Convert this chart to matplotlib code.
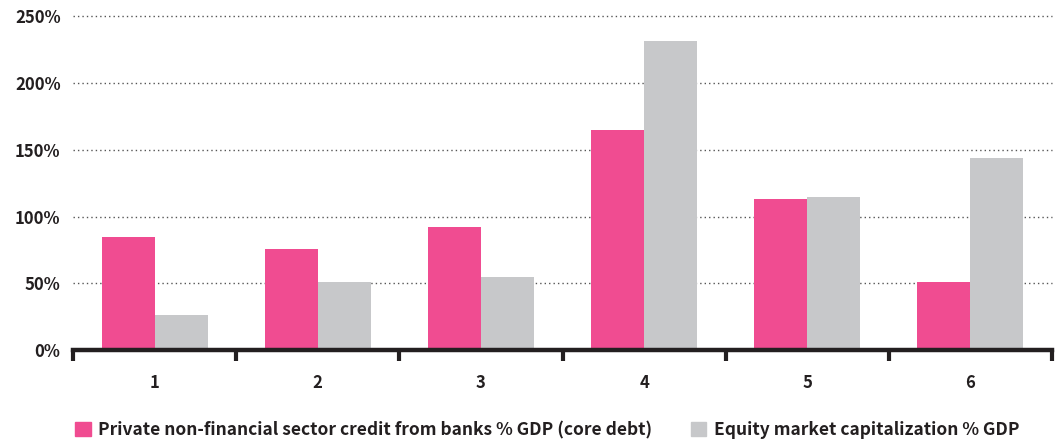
import matplotlib
matplotlib.use("Agg")
import matplotlib.pyplot as plt
import numpy as np
from matplotlib.patches import Patch

categories = ["1", "2", "3", "4", "5", "6"]
credit = [85, 76, 92, 165, 113, 51]
equity = [26, 51, 55, 232, 115, 144]
yticks = [0, 50, 100, 150, 200, 250]
ytick_labels = ["0%", "50%", "100%", "150%", "200%", "250%"]
series_names = ["Private non-financial sector credit from banks % GDP (core debt)",
                "Equity market capitalization % GDP"]

PINK = "#F04C91"
GRAY = "#C7C8CA"
DARK = "#231F20"

plt.rcParams['font.family'] = ['Noto Sans CJK SC', 'DejaVu Sans']
plt.rcParams['font.weight'] = 'bold'

fig = plt.figure(figsize=(10.57, 4.41), dpi=100)
ax = fig.add_axes([73/1057, 1-350/441, (1052-73)/1057, (350-16.5)/441])

x = np.arange(len(categories))
w = 0.325
ax.bar(x - w/2, credit, width=w, color=PINK, zorder=3, label=series_names[0])
ax.bar(x + w/2, equity, width=w, color=GRAY, zorder=3, label=series_names[1])

ax.set_xlim(-0.5, len(categories) - 0.5)
ax.set_ylim(0, 250)
ax.set_yticks(yticks)
ax.set_yticklabels(ytick_labels)
for t in yticks[1:]:
    ax.axhline(t, color="#555555", lw=1.0, ls=(0, (1, 2.2)), zorder=1, clip_on=False)

ax.set_xticks(x)
ax.set_xticklabels(categories)
ax.set_xticks(np.arange(-0.5, len(categories), 1), minor=True)
ax.tick_params(axis='x', which='major', length=0, pad=17, labelsize=12, labelcolor=DARK)
ax.tick_params(axis='x', which='minor', length=8, width=3, color=DARK, direction='out')
ax.tick_params(axis='y', length=0, pad=9, labelsize=12, labelcolor=DARK)

for s in ['top', 'right', 'left']:
    ax.spines[s].set_visible(False)
ax.spines['bottom'].set_linewidth(3.2)
ax.spines['bottom'].set_color(DARK)
ax.spines['bottom'].set_zorder(4)

handles = [Patch(color=PINK), Patch(color=GRAY)]
leg = fig.legend(handles, series_names, loc='center left', bbox_to_anchor=(75/1057, 1-430/441),
                 ncol=2, frameon=False, fontsize=12.5, handlelength=0.9, handleheight=0.9,
                 handletextpad=0.45, columnspacing=2.2, borderaxespad=0.0, borderpad=0.0)
for t in leg.get_texts():
    t.set_color(DARK)

fig.savefig("out.png", dpi=100)
